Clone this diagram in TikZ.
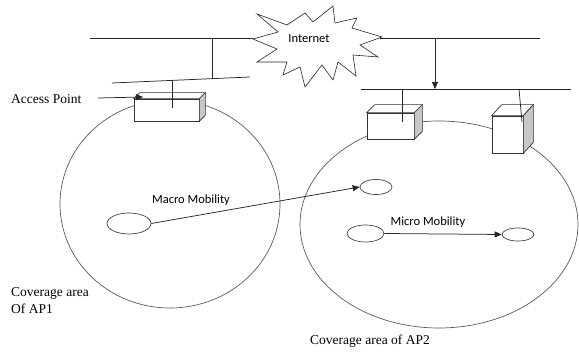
\documentclass[tikz,border=0pt]{standalone}
\usepackage{fontspec}
\setmainfont{Liberation Serif}
\newfontfamily\calib{Carlito}
\usetikzlibrary{shapes.geometric,arrows.meta}

\tikzset{
  wire/.style={draw=black!85, line width=0.75pt},
  cell/.style={draw=black!65, line width=0.7pt, ellipse, inner sep=0pt},
  mobile/.style={draw=black!75, line width=0.7pt, ellipse, inner sep=0pt},
  apface/.style={draw=black!80, line width=0.7pt, fill=white, rectangle, inner sep=0pt},
  apside/.style={draw=black!80, line width=0.7pt, fill=black!22},
  aptop/.style={draw=black!80, line width=0.7pt, fill=white},
  tip/.style={-{Triangle[length=7pt,width=6pt]}},
  serif/.style={font=\fontsize{13.5}{16}\selectfont, inner sep=0pt, align=left},
  sans/.style={font=\calib\fontsize{12.5}{15}\selectfont, inner sep=0pt},
}

% draws the top and right faces of a box node #1 with depth (#2,#3)
\newcommand{\boxdepth}[3]{%
  \draw[aptop] (#1.north west) -- ++(#2,#3) -- ([shift={(#2,#3)}]#1.north east) -- (#1.north east) -- cycle;
  \draw[apside] (#1.north east) -- ++(#2,#3) -- ([shift={(#2,#3)}]#1.south east) -- (#1.south east) -- cycle;
}

\begin{document}
\begin{tikzpicture}[x=1pt,y=-1pt]
\useasboundingbox (0,0) rectangle (579,352);

% coverage areas
\node[cell, minimum width=220, minimum height=208] (cov1) at (170,204) {};
\node[cell, minimum width=278, minimum height=207] (cov2) at (439,224.5) {};

% internet cloud
\draw[wire, line width=0.6pt] (257,14) -- (287,25) -- (305,13) -- (313,22) -- (333,6) -- (335,23)
  -- (357,18) -- (352,28) -- (382,37) -- (360,45) -- (378,57) -- (353,55) -- (356,76)
  -- (338,62) -- (333,80) -- (322,65) -- (305,87) -- (300,67) -- (283,75) -- (287,62)
  -- (257,62) -- (277,49) -- (253,39) -- (278,32) -- cycle;
\node[sans] (inet) at (309,39) {Internet};
\coordinate (sbL) at (253,38);
\coordinate (sbR) at (380,38);

% backbone lines
\coordinate (bbL) at (90,38);
\coordinate (bbR) at (540,38);
\draw[wire] (bbL) -- (sbL);
\draw[wire] (sbR) -- (bbR);

% left distribution line
\coordinate (l1a) at (112,83);
\coordinate (l1b) at (250,77);
\draw[wire] (l1a) -- (l1b);
\coordinate (up1) at (212,38);
\coordinate (dn1) at (212,78.7);
\draw[wire] (up1) -- (dn1);

% right distribution line
\coordinate (l2a) at (361,89);
\coordinate (l2b) at (571,89);
\draw[wire] (l2a) -- (l2b);
\coordinate (up2) at (435,38);
\coordinate (dn2) at (435,89);
\draw[wire, tip] (up2) -- (dn2);

% access points
\node[apface, minimum width=65, minimum height=22] (ap1) at (166.5,110) {};
\boxdepth{ap1}{6}{-6}
\node[apface, minimum width=47, minimum height=26] (ap2) at (390.5,126) {};
\boxdepth{ap2}{8}{-8}
\node[apface, minimum width=31, minimum height=37] (ap3) at (507.5,134.5) {};
\boxdepth{ap3}{10}{-11}

% drops to access points
\coordinate (d1a) at (172,80.4);
\coordinate (d1b) at (172,108);
\draw[wire] (d1a) -- (d1b);
\coordinate (d2a) at (402,89);
\coordinate (d2b) at (402,122);
\draw[wire] (d2a) -- (d2b);
\coordinate (d3a) at (519,89);
\coordinate (d3b) at (522,122);
\draw[wire] (d3a) -- (d3b);

% access point label
\node[serif, anchor=west] (aplbl) at (11,99) {Access Point};
\coordinate (apin) at (143,97);
\draw[wire, tip] (98,98) -- (apin);

% mobile nodes
\node[mobile, minimum width=44, minimum height=21] (m1) at (129,223.5) {};
\node[mobile, minimum width=32, minimum height=15] (m2) at (376,187) {};
\node[mobile, minimum width=37, minimum height=17] (m3) at (365.5,233.5) {};
\node[mobile, minimum width=32, minimum height=13] (m4) at (518,234.5) {};

\draw[wire, tip] (m1.east) -- (m2.west);
\draw[wire, tip] (m3.east) -- (m4.west);
\node[sans] (macro) at (191,200) {Macro Mobility};
\node[sans] (micro) at (428,222) {Micro Mobility};

% coverage labels
\node[serif, anchor=north west] (cov1lbl) at (11,287) {Coverage area\\[1pt]Of AP1};
\node[serif, anchor=west] (cov2lbl) at (310,341) {Coverage area of AP2};
\end{tikzpicture}
\end{document}
